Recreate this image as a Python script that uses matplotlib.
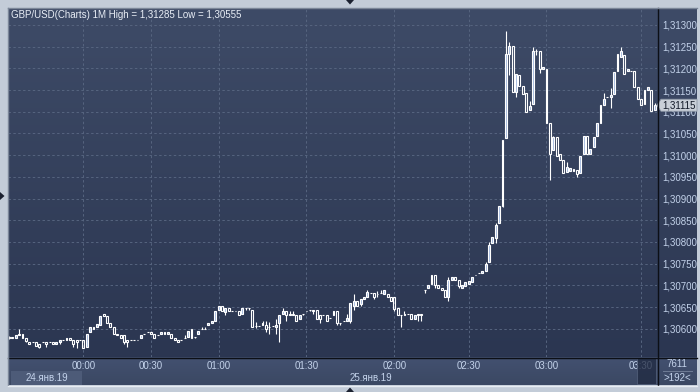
import matplotlib
matplotlib.use("Agg")
import matplotlib.pyplot as plt
import numpy as np
from matplotlib.patches import Rectangle, Polygon
from matplotlib.collections import LineCollection
from matplotlib.colors import LinearSegmentedColormap
from matplotlib.ticker import FixedLocator, FuncFormatter

plt.rcParams['font.family'] = ['Liberation Sans', 'DejaVu Sans']

# ---------------- data (GBP/USD, 1-minute bars) ----------------
opens = [
    1.30578,1.30580,1.30579,1.30585,1.30588,1.30579,1.30570,1.30570,1.30570,1.30564,
    1.30570,1.30570,1.30570,1.30570,1.30564,1.30570,1.30575,1.30575,1.30579,1.30575,
    1.30575,1.30575,1.30575,1.30559,1.30592,1.30605,1.30604,1.30608,1.30634,1.30629,
    1.30614,1.30604,1.30588,1.30585,1.30585,1.30575,1.30575,1.30575,1.30575,1.30579,
    1.30588,1.30592,1.30592,1.30588,1.30585,1.30588,1.30592,1.30588,1.30588,1.30579,
    1.30575,1.30575,1.30579,1.30582,1.30600,1.30582,1.30588,1.30600,1.30600,1.30609,
    1.30614,1.30619,1.30643,1.30652,1.30638,1.30648,1.30640,1.30640,1.30640,1.30634,
    1.30648,1.30648,1.30644,1.30607,1.30607,1.30609,1.30609,1.30604,1.30607,1.30604,
    1.30614,1.30634,1.30640,1.30631,1.30634,1.30631,1.30623,1.30634,1.30640,1.30644,
    1.30644,1.30644,1.30631,1.30631,1.30631,1.30624,1.30631,1.30640,1.30614,1.30619,
    1.30619,1.30619,1.30652,1.30665,1.30657,1.30669,1.30674,1.30683,1.30683,1.30681,
    1.30683,1.30679,1.30679,1.30674,1.30674,1.30648,1.30631,1.30631,1.30634,1.30634,
    1.30623,1.30634,1.30634,1.30690,1.30694,1.30703,1.30724,1.30700,1.30694,1.30690,
    1.30673,1.30713,1.30720,1.30713,1.30694,1.30698,1.30703,1.30707,1.30724,1.30729,
    1.30729,1.30733,1.30754,1.30797,1.30809,1.30843,1.30884,1.31039,1.31234,1.31251,
    1.31145,1.31185,1.31160,1.31144,1.31105,1.31118,1.31239,1.31239,1.31199,1.31199,
    1.31075,1.31011,1.31041,1.31003,1.30989,1.30961,1.30963,1.30964,1.30965,1.30959,
    1.31002,1.31045,1.31003,1.31018,1.31044,1.31075,1.31115,1.31134,1.31134,1.31141,
    1.31195,1.31226,1.31230,1.31195,1.31195,1.31195,1.31157,1.31130,1.31118,1.31149,
    1.31149,1.31105,
]
highs = [
    1.30583,1.30580,1.30585,1.30600,1.30588,1.30579,1.30570,1.30570,1.30570,1.30564,
    1.30570,1.30570,1.30570,1.30570,1.30570,1.30575,1.30575,1.30579,1.30579,1.30575,
    1.30575,1.30575,1.30575,1.30588,1.30605,1.30605,1.30610,1.30629,1.30635,1.30629,
    1.30614,1.30604,1.30588,1.30585,1.30585,1.30575,1.30575,1.30575,1.30575,1.30585,
    1.30588,1.30592,1.30592,1.30588,1.30585,1.30592,1.30592,1.30592,1.30588,1.30579,
    1.30575,1.30575,1.30585,1.30594,1.30600,1.30582,1.30594,1.30604,1.30604,1.30614,
    1.30619,1.30640,1.30652,1.30652,1.30648,1.30648,1.30640,1.30640,1.30640,1.30648,
    1.30648,1.30648,1.30644,1.30615,1.30607,1.30619,1.30619,1.30615,1.30607,1.30623,
    1.30631,1.30648,1.30640,1.30640,1.30640,1.30631,1.30631,1.30634,1.30640,1.30644,
    1.30644,1.30644,1.30631,1.30631,1.30631,1.30624,1.30640,1.30640,1.30614,1.30619,
    1.30634,1.30660,1.30679,1.30665,1.30669,1.30674,1.30690,1.30683,1.30683,1.30686,
    1.30690,1.30690,1.30679,1.30674,1.30674,1.30648,1.30631,1.30640,1.30634,1.30634,
    1.30631,1.30634,1.30634,1.30690,1.30700,1.30724,1.30724,1.30700,1.30694,1.30690,
    1.30720,1.30720,1.30720,1.30713,1.30700,1.30708,1.30709,1.30720,1.30724,1.30729,
    1.30734,1.30755,1.30800,1.30811,1.30844,1.30884,1.31034,1.31285,1.31260,1.31251,
    1.31187,1.31185,1.31160,1.31144,1.31125,1.31249,1.31245,1.31239,1.31204,1.31199,
    1.31075,1.31045,1.31041,1.31003,1.30989,1.30985,1.30971,1.30968,1.30965,1.30999,
    1.31045,1.31045,1.31015,1.31042,1.31075,1.31115,1.31144,1.31134,1.31155,1.31191,
    1.31234,1.31249,1.31230,1.31199,1.31195,1.31195,1.31157,1.31130,1.31149,1.31157,
    1.31149,1.31120,
]
lows = [
    1.30576,1.30579,1.30579,1.30585,1.30579,1.30570,1.30564,1.30570,1.30560,1.30555,
    1.30570,1.30558,1.30570,1.30564,1.30564,1.30564,1.30575,1.30575,1.30575,1.30558,
    1.30555,1.30575,1.30555,1.30559,1.30592,1.30600,1.30604,1.30608,1.30629,1.30614,
    1.30604,1.30588,1.30585,1.30579,1.30564,1.30558,1.30575,1.30575,1.30575,1.30579,
    1.30588,1.30592,1.30588,1.30579,1.30585,1.30588,1.30588,1.30588,1.30579,1.30575,
    1.30570,1.30575,1.30579,1.30582,1.30579,1.30579,1.30588,1.30600,1.30600,1.30609,
    1.30614,1.30619,1.30643,1.30640,1.30631,1.30640,1.30640,1.30640,1.30631,1.30634,
    1.30643,1.30643,1.30604,1.30602,1.30607,1.30609,1.30592,1.30588,1.30607,1.30588,
    1.30569,1.30634,1.30618,1.30631,1.30631,1.30619,1.30623,1.30631,1.30640,1.30640,
    1.30634,1.30623,1.30614,1.30631,1.30619,1.30624,1.30631,1.30609,1.30609,1.30619,
    1.30619,1.30614,1.30643,1.30652,1.30652,1.30669,1.30674,1.30683,1.30669,1.30674,
    1.30683,1.30679,1.30674,1.30665,1.30640,1.30631,1.30604,1.30631,1.30634,1.30623,
    1.30623,1.30618,1.30618,1.30683,1.30694,1.30703,1.30694,1.30694,1.30690,1.30673,
    1.30664,1.30713,1.30713,1.30694,1.30694,1.30698,1.30703,1.30707,1.30724,1.30729,
    1.30729,1.30733,1.30754,1.30797,1.30797,1.30843,1.30880,1.31039,1.31184,1.31145,
    1.31135,1.31160,1.31140,1.31099,1.31105,1.31118,1.31230,1.31190,1.31199,1.31075,
    1.30943,1.31011,1.30999,1.30989,1.30959,1.30961,1.30963,1.30964,1.30949,1.30959,
    1.31002,1.31003,1.31003,1.31018,1.31044,1.31075,1.31115,1.31134,1.31108,1.31141,
    1.31195,1.31226,1.31188,1.31195,1.31195,1.31157,1.31130,1.31115,1.31118,1.31149,
    1.31101,1.31105,
]
closes = [
    1.30580,1.30579,1.30585,1.30588,1.30579,1.30571,1.30564,1.30570,1.30560,1.30558,
    1.30570,1.30564,1.30570,1.30564,1.30570,1.30575,1.30575,1.30579,1.30575,1.30564,
    1.30569,1.30575,1.30555,1.30588,1.30605,1.30600,1.30610,1.30629,1.30629,1.30614,
    1.30604,1.30588,1.30585,1.30579,1.30570,1.30570,1.30575,1.30575,1.30575,1.30585,
    1.30588,1.30592,1.30588,1.30579,1.30585,1.30592,1.30588,1.30592,1.30579,1.30575,
    1.30570,1.30575,1.30579,1.30594,1.30579,1.30582,1.30594,1.30600,1.30600,1.30614,
    1.30619,1.30640,1.30652,1.30640,1.30648,1.30640,1.30640,1.30640,1.30631,1.30648,
    1.30648,1.30648,1.30604,1.30607,1.30607,1.30614,1.30600,1.30604,1.30607,1.30609,
    1.30631,1.30640,1.30631,1.30634,1.30631,1.30619,1.30631,1.30634,1.30640,1.30644,
    1.30640,1.30623,1.30623,1.30631,1.30619,1.30624,1.30640,1.30614,1.30614,1.30619,
    1.30624,1.30660,1.30665,1.30652,1.30669,1.30674,1.30684,1.30683,1.30674,1.30681,
    1.30683,1.30690,1.30674,1.30665,1.30646,1.30631,1.30631,1.30634,1.30634,1.30623,
    1.30631,1.30631,1.30631,1.30690,1.30700,1.30724,1.30700,1.30694,1.30690,1.30673,
    1.30713,1.30720,1.30713,1.30698,1.30700,1.30708,1.30709,1.30720,1.30724,1.30729,
    1.30734,1.30750,1.30793,1.30811,1.30840,1.30884,1.31034,1.31234,1.31251,1.31145,
    1.31187,1.31160,1.31140,1.31099,1.31114,1.31239,1.31239,1.31199,1.31204,1.31075,
    1.31003,1.31041,1.30999,1.30989,1.30959,1.30972,1.30971,1.30968,1.30957,1.30999,
    1.31045,1.31003,1.31015,1.31042,1.31075,1.31115,1.31130,1.31134,1.31139,1.31191,
    1.31234,1.31239,1.31188,1.31199,1.31195,1.31157,1.31130,1.31115,1.31149,1.31157,
    1.31101,1.31115,
]

time_tick_bars = [22, 42, 62, 88, 114, 136, 159, 187]
time_tick_labels = ['00:00', '00:30', '01:00', '01:30', '02:00', '02:30', '03:00', '03:30']
price_ticks = [1.3060, 1.3065, 1.3070, 1.3075, 1.3080, 1.3085, 1.3090, 1.3095,
               1.3100, 1.3105, 1.3110, 1.3115, 1.3120, 1.3125, 1.3130]
date_labels = ['24.янв.19', '25.янв.19']
title = 'GBP/USD(Charts) 1M High = 1,31285 Low = 1,30555'
volume_label = '7611'

# ---------------- layout ----------------
W, H = 700, 392
OUTER = '#c3ccd8'
TXT = '#c3d2ea'
fig = plt.figure(figsize=(W / 100, H / 100), dpi=100, facecolor=OUTER)

PL, PT, PR, PB = 8, 8, 657, 357   # plot area in pixels
SB = 385                           # bottom of time strip
RR = 697                           # right of price panel

# background layer in pixel coordinates
bg = fig.add_axes([0, 0, 1, 1], zorder=0)
bg.set_xlim(0, W); bg.set_ylim(H, 0); bg.axis('off')
grad = LinearSegmentedColormap.from_list('g', ['#3e4b67', '#2b3651'])
bg.imshow(np.linspace(0, 1, 256).reshape(-1, 1), cmap=grad, aspect='auto',
          extent=(PL, RR, PB, PT), interpolation='bilinear')
strip = LinearSegmentedColormap.from_list('s', ['#435170', '#3b4863'])
bg.imshow(np.linspace(0, 1, 64).reshape(-1, 1), cmap=strip, aspect='auto',
          extent=(PL, RR, SB, PB), interpolation='bilinear')
bg.add_patch(Rectangle((11, 371), 71, 14, fc='#4d5b78', ec='none'))
bg.set_xlim(0, W); bg.set_ylim(H, 0)

# main axes
ax = fig.add_axes([PL / W, 1 - PB / H, (PR - PL) / W, (PB - PT) / H], zorder=1)
ax.patch.set_visible(False)
n = len(closes)
ax.set_xlim(-0.3, 191.7)
ax.set_ylim(1.30535, 1.31339)

wicks = []
for i in range(n):
    o, h, l, c = opens[i], highs[i], lows[i], closes[i]
    top, bot = max(o, c), min(o, c)
    if h > top:
        wicks.append([(i, top), (i, h)])
    if l < bot:
        wicks.append([(i, l), (i, bot)])
    fc = '#a3b9de' if c > o else 'none'
    ax.add_patch(Rectangle((i - 0.28, bot), 0.56, top - bot, fc=fc, ec='white',
                           lw=0.8, zorder=3))
ax.add_collection(LineCollection(wicks, colors='white', linewidths=0.8, zorder=3))

ax.xaxis.set_major_locator(FixedLocator(time_tick_bars))
ax.set_xticklabels(time_tick_labels)
ax.yaxis.set_major_locator(FixedLocator(price_ticks))
ax.yaxis.set_major_formatter(FuncFormatter(lambda v, p: f'{v:.5f}'.replace('.', ',')))
ax.yaxis.tick_right()
ax.tick_params(axis='both', length=0, labelsize=7, labelcolor=TXT)
ax.tick_params(axis='x', pad=3)
ax.tick_params(axis='y', pad=3.5)
ax.grid(True, color='#56647f', linestyle=(0, (2.5, 2.5)), linewidth=0.7)
for s in ax.spines.values():
    s.set_visible(False)

# overlay layer
ov = fig.add_axes([0, 0, 1, 1], zorder=2)
ov.patch.set_visible(False)
ov.set_xlim(0, W); ov.set_ylim(H, 0); ov.axis('off')

# borders
ov.plot([PR + 0.5, PR + 0.5], [PT, SB], color='#0c0f16', lw=1.0)
ov.plot([PL, RR], [PB + 0.5, PB + 0.5], color='#0c0f16', lw=1.0)
ov.plot([PL - 0.5, PL - 0.5], [PT, SB], color='#7b8698', lw=1.0)
ov.plot([PL, RR], [PT - 0.5, PT - 0.5], color='#7b8698', lw=1.0)
ov.plot([PL, RR], [SB + 0.5, SB + 0.5], color='#e8edf3', lw=1.0)

# title
ov.text(11, 14.5, title, color='#e9eef6', fontsize=7, va='center', ha='left')

# scroll thumb over the last time label
ov.add_patch(Rectangle((637, 358), 19, 26, fc='#1f2940', ec='#5a6883', lw=0.6, alpha=0.75))

# last price tag
y_last = ax.transData.transform((0, closes[-1]))[1]
y_pix = H - y_last
tag = Polygon([(PR, y_pix), (PR + 4, y_pix - 6), (RR, y_pix - 6), (RR, y_pix + 6),
               (PR + 4, y_pix + 6)], closed=True, fc='#c9cfd8', ec='#8f99a8', lw=0.6)
ov.add_patch(tag)
ov.text(679, y_pix, f'{closes[-1]:.5f}'.replace('.', ','), color='#111827',
        fontsize=7, ha='center', va='center')

# bottom-right cell
ov.text(677, 364, volume_label, color=TXT, fontsize=7, ha='center', va='center')
ov.plot([663, 692], [371, 371], color='#6f7c95', lw=0.7)
ov.text(677, 378, f'>{n}<', color=TXT, fontsize=7, ha='center', va='center')

# date labels
ov.text(47, 378, date_labels[0], color=TXT, fontsize=7, ha='center', va='center')
ov.text(350, 378, date_labels[1], color=TXT, fontsize=7, ha='left', va='center')

# small navigation triangles
tri_c = '#1b2130'
ov.add_patch(Polygon([(346, 0), (354, 0), (350, 4.5)], closed=True, fc=tri_c, ec='none'))
ov.add_patch(Polygon([(0, 192), (0, 200), (4.5, 196)], closed=True, fc=tri_c, ec='none'))
ov.add_patch(Polygon([(346, 392), (354, 392), (350, 387.5)], closed=True, fc=tri_c, ec='none'))

fig.savefig('out.png', dpi=100, facecolor=OUTER)
